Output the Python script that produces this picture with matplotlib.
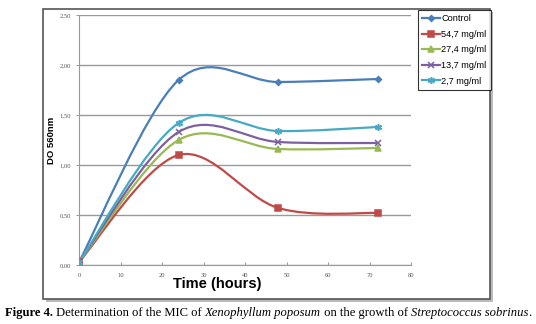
import matplotlib.pyplot as plt
import numpy as np
from matplotlib.path import Path
from matplotlib.patches import PathPatch, Rectangle

# data
hours = [0, 24, 48, 72]
control = [0.03, 1.85, 1.83, 1.86]
c547 = [0.03, 1.10, 0.57, 0.52]
c274 = [0.03, 1.25, 1.16, 1.17]
c137 = [0.03, 1.33, 1.23, 1.22]
c27 = [0.03, 1.42, 1.34, 1.38]

labels = ['Control', '54,7 mg/ml', '27,4 mg/ml', '13,7 mg/ml', '2,7 mg/ml']
series = [control, c547, c274, c137, c27]
colors = ['#4A7EBB', '#BE4B48', '#98B954', '#7D60A0', '#46AAC5']
markers = ['D', 's', '^', 'x', (6, 2, 0)]
msizes = [3.0, 4.0, 4.0, 4.0, 5.0]

yticks = [0, 0.5, 1.0, 1.5, 2.0, 2.5]
xticks = [0, 10, 20, 30, 40, 50, 60, 70, 80]


def smooth_path(x, y):
    # excel-like smoothed line (catmull-rom as cubic bezier)
    pts = np.column_stack([x, y]).astype(float)
    n = len(pts)
    verts = [pts[0]]
    codes = [Path.MOVETO]
    for i in range(n - 1):
        p0 = pts[i - 1] if i > 0 else pts[i]
        p1 = pts[i]
        p2 = pts[i + 1]
        p3 = pts[i + 2] if i + 2 < n else pts[i + 1]
        verts += [p1 + (p2 - p0) / 6, p2 - (p3 - p1) / 6, p2]
        codes += [Path.CURVE4] * 3
    return Path(verts, codes)


fig = plt.figure(figsize=(5.36, 3.24), dpi=100)
W, H = 536, 324

# outer chart frame with shadow
fig.patches.append(Rectangle((46 / W, 1 - 302 / H), 447 / W, 290 / H,
                             transform=fig.transFigure, facecolor='#bbbbbb',
                             edgecolor='none', zorder=0))
fig.patches.append(Rectangle((43 / W, 1 - 299 / H), 447 / W, 290 / H,
                             transform=fig.transFigure, facecolor='white',
                             edgecolor='#555555', linewidth=1.2, zorder=0))

ax = fig.add_axes([79 / W, 1 - 265 / H, 332 / W, 250 / H])
ax.set_zorder(2)
ax.set_facecolor('none')

for yv, lab, col, mk, ms in zip(series, labels, colors, markers, msizes):
    ax.add_patch(PathPatch(smooth_path(hours, yv), facecolor='none',
                           edgecolor=col, linewidth=1.6, zorder=3))
    ax.plot(hours, yv, linestyle='none', marker=mk, markersize=ms,
            color=col, markeredgewidth=1.1, zorder=4)
    ax.plot([], [], color=col, marker=mk, markersize=ms, linewidth=1.6,
            markeredgewidth=1.1, label=lab)

ax.set_xlim(0, 80)
ax.set_ylim(0, 2.5)
ax.set_xticks(xticks)
ax.set_yticks(yticks)
ax.set_yticklabels([('%.2f' % v).replace('.', ',') for v in yticks])
ax.tick_params(axis='both', labelsize=4.7, colors='#888888', labelcolor='#555555',
               length=2.5, width=0.6)
ax.tick_params(axis='x', direction='in', pad=6)
ax.tick_params(axis='y', direction='out', pad=3)
for lab in ax.get_xticklabels() + ax.get_yticklabels():
    lab.set_family('Liberation Serif')
ax.grid(axis='y', color='#999999', linewidth=1.0, zorder=1)
ax.set_axisbelow(True)
for s in ['top', 'right']:
    ax.spines[s].set_visible(False)
for s in ['left', 'bottom']:
    ax.spines[s].set_color('#999999')
    ax.spines[s].set_linewidth(0.8)

fig.text(52 / W, 1 - 140 / H, 'DO 560nm', rotation=90, ha='center', va='center',
         fontsize=6.8, fontweight='bold', family='Liberation Sans', zorder=3)
fig.text(217 / W, 1 - 284 / H, 'Time (hours)', ha='center', va='center',
         fontsize=10.5, fontweight='bold', family='Liberation Sans', zorder=3)

leg = ax.legend(loc='upper left', bbox_to_anchor=(418 / W, 1 - 10 / H),
                bbox_transform=fig.transFigure, fontsize=6.6, frameon=True,
                fancybox=False, edgecolor='black', handlelength=2.0,
                handletextpad=0.1, borderpad=0.45, labelspacing=0.72,
                borderaxespad=0)
leg.get_frame().set_linewidth(0.8)
for t in leg.get_texts():
    t.set_family('Liberation Sans')

# caption with mixed styles, laid out piece by piece
pieces = [('Figure 4.', 'bold', 'normal'),
          (' Determination of the MIC of ', 'normal', 'normal'),
          ('Xenophyllum poposum', 'normal', 'italic'),
          (' on the growth of ', 'normal', 'normal'),
          ('Streptococcus sobrinus', 'normal', 'italic'),
          ('.', 'normal', 'normal')]
fig.canvas.draw()
r = fig.canvas.get_renderer()
x = 5 / W
for txt, wt, st in pieces:
    t = fig.text(x, 1 - 313 / H, txt, fontsize=9.1, fontweight=wt, fontstyle=st,
                 family='Liberation Serif', va='center', ha='left')
    bb = t.get_window_extent(renderer=r)
    x += bb.width / W

fig.savefig('out.png', dpi=100)
